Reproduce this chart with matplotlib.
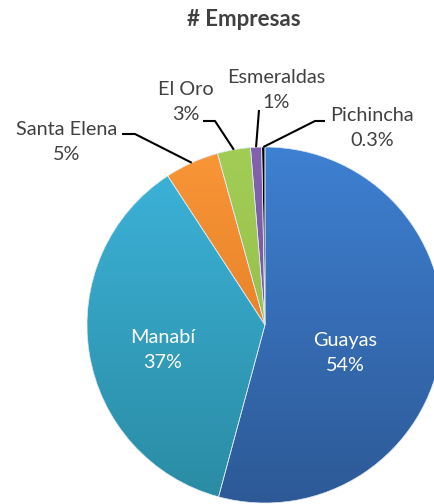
import numpy as np
import matplotlib
matplotlib.use("Agg")
import matplotlib.pyplot as plt
from matplotlib.colors import to_rgb

categories = ["Guayas", "Manabí", "Santa Elena", "El Oro", "Esmeraldas", "Pichincha"]
values = [54.2, 36.6, 4.9, 3.0, 1.0, 0.3]
pct_labels = ["54%", "37%", "5%", "3%", "1%", "0.3%"]
title = "# Empresas"

top_colors = ["#3E80D2", "#3DB4DB", "#F99637", "#A2CD55", "#8262AE", "#000000"]
bot_colors = ["#2D5996", "#2A8BA3", "#D9711F", "#8DB545", "#6F4E98", "#000000"]

plt.rcParams['font.family'] = ['Lato', 'DejaVu Sans']

W, H = 434, 504
fig = plt.figure(figsize=(W / 100, H / 100), dpi=100)
ax = fig.add_axes([0, 0, 1, 1])

cx, cy, r = 265, H - 325, 178
wedges, _ = ax.pie(values, center=(cx, cy), radius=r, startangle=90,
                   counterclock=False, frame=True,
                   wedgeprops=dict(linewidth=0.5, edgecolor="#dfe9f3"))

n = 256
t = np.linspace(0, 1, n)[:, None]
for w, ct, cb in zip(wedges, top_colors, bot_colors):
    a, b = np.array(to_rgb(ct)), np.array(to_rgb(cb))
    grad = (a[None, None, :] * (1 - t[:, :, None]) + b[None, None, :] * t[:, :, None])
    grad = np.repeat(grad, 4, axis=1)
    im = ax.imshow(grad, extent=[cx - r, cx + r, cy - r, cy + r], origin='upper',
                   zorder=w.get_zorder() - 0.01, aspect='auto', interpolation='bilinear')
    im.set_clip_path(w)
    w.set_facecolor('none')

ax.set_xlim(0, W)
ax.set_ylim(0, H)
ax.set_aspect('equal')
ax.axis('off')

# inside labels
inside = {0: (345, 353), 1: (163, 350)}
for i, (x, y) in inside.items():
    ax.text(x, H - y, f"{categories[i]}\n{pct_labels[i]}", ha='center', va='center',
            color='white', fontsize=14.3, linespacing=1.55)

# outside labels with leader lines (layout positions)
outside = {
    2: dict(text=(67, 142), elbow=[(122, 134), (135, 134)]),
    3: dict(text=(186, 102), elbow=[(203, 121), (215, 121)]),
    4: dict(text=(276, 90), elbow=[(259, 110)]),
    5: dict(text=(372, 128), elbow=[(325, 121), (315, 121)]),
}
for i, d in outside.items():
    w = wedges[i]
    mid = np.deg2rad((w.theta1 + w.theta2) / 2)
    ax_pt = (cx + r * np.cos(mid), cy + r * np.sin(mid))
    pts = [(x, H - y) for x, y in d['elbow']] + [ax_pt]
    xs, ys = zip(*pts)
    ax.plot(xs, ys, color='black', lw=1.5, zorder=5, solid_capstyle='butt')
    tx, ty = d['text']
    ax.text(tx, H - ty, f"{categories[i]}\n{pct_labels[i]}", ha='center', va='center',
            color='#404040', fontsize=14.3, linespacing=1.55)

ax.text(244, H - 19, title, ha='center', va='center', fontsize=16,
        fontweight='bold', color='#404040')

fig.savefig("out.png", dpi=100)
